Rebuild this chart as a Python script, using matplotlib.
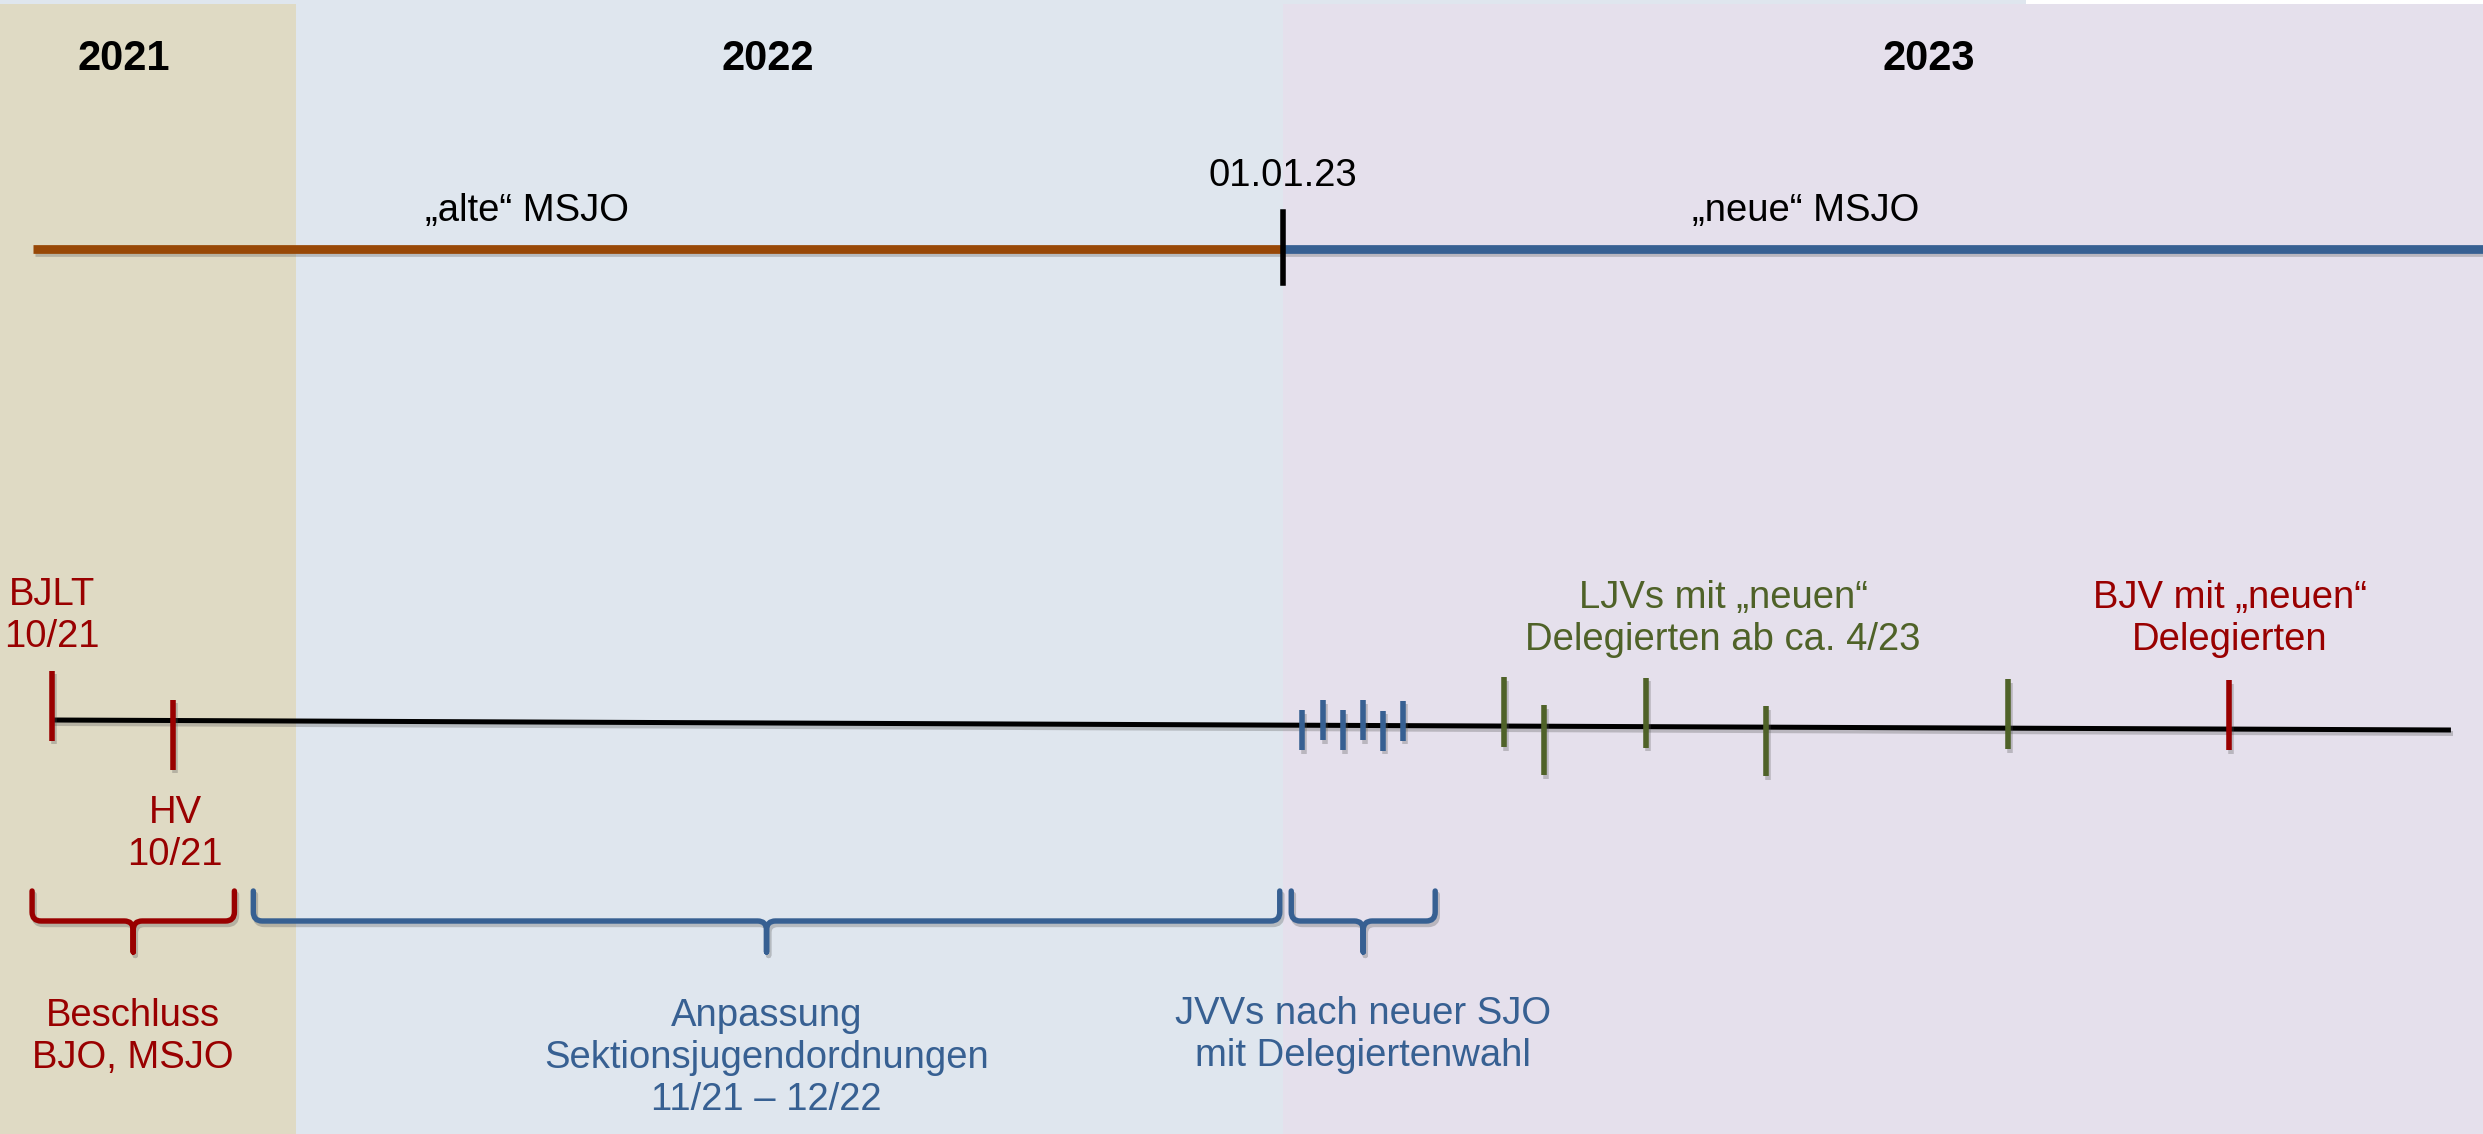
import matplotlib.pyplot as plt
import matplotlib.patheffects as pe
import numpy as np
from matplotlib.patches import PathPatch
from matplotlib.path import Path

plt.rcParams["font.family"] = ["Liberation Sans", "DejaVu Sans"]

# x values are months counted from Jan 2021 (12 = 1.1.2022, 24 = 1.1.2023)
x_left, x_right = 8.40, 38.59

# year bands
year_labels = ["2021", "2022", "2023"]
year_bounds = [x_left, 12, 24, x_right]
year_label_x = [9.91, 17.74, 31.85]
year_colors = ["#dfdac4", "#dfe6ee", "#e5e0ec"]

# old / new MSJO phases (top line)
phase_labels = ["\u201ealte\u201c MSJO", "\u201eneue\u201c MSJO"]
phase_start = [8.80, 24.0]
phase_end = [24.0, x_right]
phase_label_x = [14.81, 30.35]
phase_colors = ["#984807", "#376092"]
switch_x = 24.0
switch_label = "01.01.23"

# events on the lower timeline (side: -1 above the line, +1 below)
timeline_x = [9.03, 38.20]
timeline_y = [720, 730]
event_x = [9.03, 10.50, 24.23, 24.49, 24.73, 24.97, 25.22, 25.46,
           26.69, 27.17, 28.41, 29.87, 32.81, 35.50]
event_side = [-1, 1, 1, -1, 1, -1, 1, -1, -1, 1, -1, 1, -1, -1]
event_kind = ["red", "red"] + ["blue"] * 6 + ["green"] * 5 + ["red"]

event_label_text = ["BJLT\n10/21", "HV\n10/21",
                    "LJVs mit \u201eneuen\u201c\nDelegierten ab ca. 4/23",
                    "BJV mit \u201eneuen\u201c\nDelegierten"]
event_label_x = [9.03, 10.53, 29.35, 35.51]
event_label_y = [616, 834, 619, 619]
event_label_kind = ["red", "red", "green", "red"]

# braces under the timeline
brace_start = [8.79, 11.48, 24.10]
brace_end = [11.25, 23.96, 25.85]
brace_kind = ["red", "blue", "blue"]
brace_text = ["Beschluss\nBJO, MSJO",
              "Anpassung\nSektionsjugendordnungen\n11/21 \u2013 12/22",
              "JVVs nach neuer SJO\nmit Delegiertenwahl"]
brace_text_y = [1037, 1058, 1035]

colors = {"red": "#990000", "blue": "#376092", "green": "#4f6228"}

W, H = 2483, 1134
fig = plt.figure(figsize=(W / 100, H / 100), dpi=100)
ax = fig.add_axes([0, 0, 1, 1])
ax.set_xlim(x_left, x_right)
ax.set_ylim(H, 0)
ax.axis("off")
px_per_month = W / (x_right - x_left)

shadow = [pe.SimpleLineShadow(offset=(1.5, -2.5), shadow_color="#555555", alpha=0.3), pe.Normal()]

# background bands
for i, lab in enumerate(year_labels):
    ax.axvspan(year_bounds[i], year_bounds[i + 1], color=year_colors[i], lw=0, zorder=0)
    ax.text(year_label_x[i], 59, lab, ha="center", va="center",
            fontsize=30, fontweight="bold", color="black")
ax.axhspan(0, 4, xmin=0, xmax=2026 / W, color="#dfe6ee", lw=0, zorder=0.5)
ax.axhspan(0, 4, xmin=2026 / W, xmax=1, color="white", lw=0, zorder=0.5)

# top line with the two phases
for s, e, c, lab, lx in zip(phase_start, phase_end, phase_colors, phase_labels, phase_label_x):
    ax.plot([s, e], [249, 249], color=c, lw=6.3, solid_capstyle="butt", path_effects=shadow, zorder=2)
    ax.text(lx, 211, lab, ha="center", va="center", fontsize=27.5, color="black")
ax.plot([switch_x, switch_x], [212, 283], color="black", lw=4.0, zorder=3)
ax.text(switch_x, 176, switch_label, ha="center", va="center", fontsize=27.5, color="black")

# lower timeline
ax.plot(timeline_x, timeline_y, color="black", lw=3.6, solid_capstyle="butt", path_effects=shadow, zorder=2)
for x, side, kind in zip(event_x, event_side, event_kind):
    yc = np.interp(x, timeline_x, timeline_y)
    if kind == "blue":
        half, off = 20, 5
    else:
        half, off = 35, 14
    mid = yc + side * off
    ax.plot([x, x], [mid - half, mid + half], color=colors[kind], lw=4.0,
            solid_capstyle="butt", path_effects=shadow, zorder=3)

for txt, x, y, kind in zip(event_label_text, event_label_x, event_label_y, event_label_kind):
    ax.text(x, y, txt, ha="center", va="center", fontsize=27.5,
            color=colors[kind], linespacing=1.2)


def brace(x0, x1, color, y_top=891, y_bar=921, y_tip=952, r_px=9):
    rx = r_px / px_per_month
    xc = (x0 + x1) / 2
    verts, codes = [], []
    for xa, sgn in ((x0, 1), (x1, -1)):
        verts += [(xa, y_top), (xa, y_bar - r_px), (xa, y_bar), (xa + sgn * rx, y_bar),
                  (xc - sgn * rx, y_bar), (xc, y_bar), (xc, y_bar + r_px), (xc, y_tip)]
        codes += [Path.MOVETO, Path.LINETO, Path.CURVE3, Path.CURVE3,
                  Path.LINETO, Path.CURVE3, Path.CURVE3, Path.LINETO]
    patch = PathPatch(Path(verts, codes), fill=False, edgecolor=color, lw=3.9,
                      capstyle="round", joinstyle="round", path_effects=shadow, zorder=3)
    ax.add_patch(patch)


for s, e, kind, txt, ty in zip(brace_start, brace_end, brace_kind, brace_text, brace_text_y):
    brace(s, e, colors[kind])
    ax.text((s + e) / 2, ty, txt, ha="center", va="center", fontsize=27.5,
            color=colors[kind], linespacing=1.2)

fig.savefig("out.png", dpi=100)
